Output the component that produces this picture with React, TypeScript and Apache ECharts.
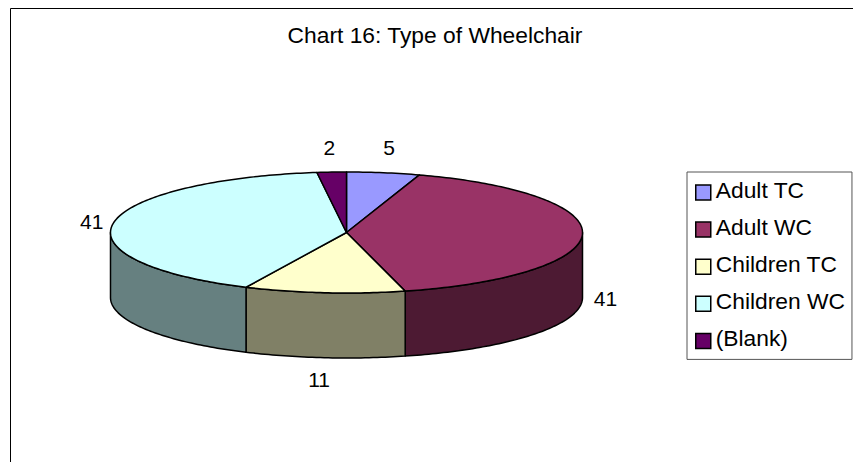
import React, { useEffect, useRef } from "react";
import * as echarts from "echarts";

const categories = ["Adult TC", "Adult WC", "Children TC", "Children WC", "(Blank)"];
const values = [5, 41, 11, 41, 2];
const topColors = ["#9999FF", "#993366", "#FFFFCC", "#CCFFFF", "#660066"];
const sideColors = ["#4D4D80", "#4D1A33", "#808066", "#668080", "#330033"];
const labelNudge = [[2, -2], [0, -2], [-3, -2], [1, 2], [-1, -1]];

const CX = 346.5, CY = 232.5, RX = 236, RY = 60.5, DEPTH = 65;
const FONT = "Arial, 'Liberation Sans', sans-serif";

const total = values.reduce((a, b) => a + b, 0);
const pt = (f: number, dy = 0): number[] => {
  const t = f * Math.PI * 2;
  return [CX + RX * Math.sin(t), CY - RY * Math.cos(t) + dy];
};
const arcPts = (a: number, b: number, dy = 0) => {
  const n = Math.max(2, Math.ceil((b - a) * 360));
  const out: number[][] = [];
  for (let i = 0; i <= n; i++) out.push(pt(a + ((b - a) * i) / n, dy));
  return out;
};

const renderSlice = (idx: number) => (_p: any, api: any) => {
  const start = api.value(0) / total;
  const end = api.value(1) / total;
  const children: any[] = [];
  const stroke = { stroke: "#000", lineWidth: 1.5, lineJoin: "round" };
  const fa = Math.max(start, 0.25);
  const fb = Math.min(end, 0.75);
  if (fb > fa) {
    const upper = arcPts(fa, fb);
    const lower = arcPts(fa, fb, DEPTH).reverse();
    children.push({
      type: "polygon", z2: 1,
      shape: { points: [...upper, ...lower] },
      style: { fill: sideColors[idx], ...stroke },
    });
  }
  children.push({
    type: "polygon", z2: 2,
    shape: { points: [[CX, CY], ...arcPts(start, end)] },
    style: { fill: topColors[idx], ...stroke },
  });
  const mid = (start + end) / 2;
  const t = mid * Math.PI * 2;
  const low = fb > fa && mid > fa && mid < fb;
  const p = pt(mid, low ? DEPTH : 0);
  children.push({
    type: "text", z2: 3,
    x: p[0] + 23 * Math.sin(t) + labelNudge[idx][0],
    y: p[1] - 24 * Math.cos(t) + labelNudge[idx][1],
    style: {
      text: String(api.value(2)), fill: "#000", font: `21px ${FONT}`,
      align: "center", verticalAlign: "middle",
    },
  });
  return { type: "group", children };
};

let running = 0;
const spans = values.map((v) => {
  const s = [running, running + v, v];
  running += v;
  return s;
});

export default function App() {
  const ref = useRef<HTMLDivElement>(null);
  useEffect(() => {
    const chart = echarts.init(ref.current!, undefined, { renderer: "svg" });
    chart.setOption({
      animation: false,
      backgroundColor: "#fff",
      title: {
        text: "Chart 16: Type of Wheelchair",
        left: 435, top: 23, textAlign: "center",
        textStyle: { fontFamily: FONT, fontSize: 22.8, fontWeight: "normal", color: "#000" },
        padding: 0,
      },
      legend: {
        orient: "vertical", left: 687, top: 172,
        padding: [6, 7, 10, 8], itemGap: 14.1, itemWidth: 15, itemHeight: 15,
        icon: "rect", selectedMode: false, align: "left",
        backgroundColor: "#fff", borderColor: "#555", borderWidth: 1,
        itemStyle: { borderColor: "#000", borderWidth: 1.5 },
        formatter: (name: string) => `{a|${name}}`,
        textStyle: {
          rich: {
            a: { fontFamily: FONT, fontSize: 22.8, color: "#000", padding: [0, 0, 6, 0] },
          },
        },
        data: categories,
      },
      graphic: [
        {
          type: "polyline", silent: true,
          shape: { points: [[10.5, 462], [10.5, 8.5], [853, 8.5]] },
          style: { stroke: "#000", lineWidth: 1, fill: "none" },
        },
      ],
      series: categories.map((name, i) => ({
        type: "custom", name, coordinateSystem: "none",
        itemStyle: { color: topColors[i] },
        renderItem: renderSlice(i),
        data: [spans[i]],
      })),
    });
    return () => chart.dispose();
  }, []);
  return <div ref={ref} style={{ position: "fixed", left: 0, top: 0, width: 853, height: 462 }} />;
}
